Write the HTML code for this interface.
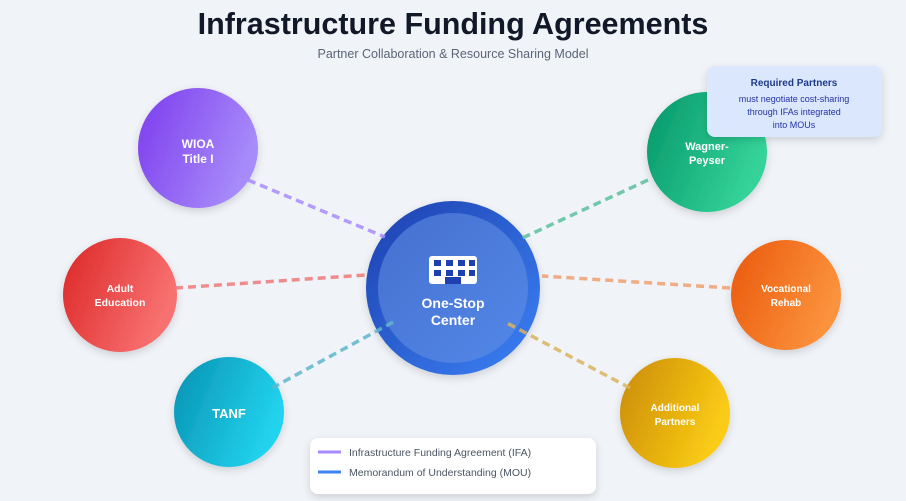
<!DOCTYPE html>
<html><head><meta charset="utf-8"><style>
html,body{margin:0;padding:0;background:#f0f3f8;}
svg{display:block;}
text{font-family:"Liberation Sans",sans-serif;}
</style></head><body>
<svg width="906" height="501" viewBox="0 0 906 501" xmlns="http://www.w3.org/2000/svg">
<defs>
<linearGradient id="gp" x1="0" y1="0" x2="1" y2="0.4"><stop offset="0" stop-color="#7c3aed"/><stop offset="1" stop-color="#a78bfa"/></linearGradient>
<linearGradient id="gr" x1="0" y1="0" x2="1" y2="0.4"><stop offset="0" stop-color="#dc2626"/><stop offset="1" stop-color="#f87171"/></linearGradient>
<linearGradient id="gc" x1="0" y1="0" x2="1" y2="0.4"><stop offset="0" stop-color="#0891b2"/><stop offset="1" stop-color="#22d3ee"/></linearGradient>
<linearGradient id="gg" x1="0" y1="0" x2="1" y2="0.4"><stop offset="0" stop-color="#059669"/><stop offset="1" stop-color="#34d399"/></linearGradient>
<linearGradient id="go" x1="0" y1="0" x2="1" y2="0.4"><stop offset="0" stop-color="#ea580c"/><stop offset="1" stop-color="#fb923c"/></linearGradient>
<linearGradient id="gy" x1="0" y1="0" x2="1" y2="0.4"><stop offset="0" stop-color="#ca8a04"/><stop offset="1" stop-color="#facc15"/></linearGradient>
<linearGradient id="gb" x1="0" y1="0" x2="1" y2="1"><stop offset="0" stop-color="#1e40af"/><stop offset="1" stop-color="#3b82f6"/></linearGradient>
<linearGradient id="gbi" x1="0" y1="0" x2="1" y2="1"><stop offset="0" stop-color="#4670cf"/><stop offset="1" stop-color="#5288e8"/></linearGradient>
<filter id="sh" x="-30%" y="-30%" width="160%" height="160%"><feDropShadow dx="0" dy="3" stdDeviation="4" flood-color="#000" flood-opacity="0.15"/></filter>
</defs>
<text x="453" y="34" text-anchor="middle" font-size="30.5" font-weight="bold" fill="#111827">Infrastructure Funding Agreements</text>
<text x="453" y="58" text-anchor="middle" font-size="12.5" fill="#5b6577">Partner Collaboration &amp; Resource Sharing Model</text>

<g filter="url(#sh)">
<circle cx="198" cy="148" r="60" fill="url(#gp)"/>
<circle cx="120" cy="295" r="57" fill="url(#gr)"/>
<circle cx="229" cy="412" r="55" fill="url(#gc)"/>
<circle cx="707" cy="152" r="60" fill="url(#gg)"/>
<circle cx="786" cy="295" r="55" fill="url(#go)"/>
<circle cx="675" cy="413" r="55" fill="url(#gy)"/>
<circle cx="453" cy="288" r="87" fill="url(#gb)"/>
</g>
<circle cx="453" cy="288" r="75" fill="url(#gbi)"/>

<g stroke-width="3.5" stroke-dasharray="8,5" fill="none" opacity="0.85">
<line x1="248" y1="180" x2="385" y2="237" stroke="#a78bfa"/>
<line x1="175" y1="288" x2="366" y2="275" stroke="#ee7a7a"/>
<line x1="272" y1="388" x2="397" y2="320" stroke="#5fb8cc"/>
<line x1="648" y1="180" x2="518" y2="240" stroke="#5cbf9d"/>
<line x1="730" y1="288" x2="542" y2="276" stroke="#f0a070"/>
<line x1="630" y1="388" x2="505" y2="322" stroke="#dbb460"/>
</g>

<g fill="#fff" font-weight="bold" text-anchor="middle">
<text x="198" y="148" font-size="12">WIOA</text><text x="198" y="163" font-size="12">Title I</text>
<text x="120" y="292" font-size="10.5">Adult</text><text x="120" y="306" font-size="10.5">Education</text>
<text x="229" y="418" font-size="13">TANF</text>
<text x="707" y="150" font-size="11">Wagner-</text><text x="707" y="164" font-size="11">Peyser</text>
<text x="786" y="292" font-size="10">Vocational</text><text x="786" y="306" font-size="10">Rehab</text>
<text x="675" y="411" font-size="10">Additional</text><text x="675" y="425" font-size="10">Partners</text>
<text x="453" y="308" font-size="14">One-Stop</text><text x="453" y="325" font-size="14">Center</text>
</g>
<rect x="429" y="256" width="48" height="28" rx="3" fill="#fff"/>
<g fill="#1e40af">
<rect x="434" y="260" width="7" height="6"/><rect x="446" y="260" width="7" height="6"/><rect x="458" y="260" width="7" height="6"/><rect x="469" y="260" width="6" height="6"/>
<rect x="434" y="270" width="7" height="6"/><rect x="446" y="270" width="7" height="6"/><rect x="458" y="270" width="7" height="6"/><rect x="469" y="270" width="6" height="6"/>
<rect x="445" y="277" width="16" height="7"/>
</g>

<g filter="url(#sh)"><rect x="707" y="66" width="175" height="71" rx="8" fill="#dbe7fd"/></g>
<text x="794" y="86" text-anchor="middle" font-size="10" font-weight="bold" fill="#1e3a8a">Required Partners</text>
<g font-size="9" fill="#2433a0" text-anchor="middle">
<text x="794" y="102">must negotiate cost-sharing</text>
<text x="794" y="115">through IFAs integrated</text>
<text x="794" y="128">into MOUs</text>
</g>

<g filter="url(#sh)"><rect x="310" y="438" width="286" height="56" rx="8" fill="#fff"/></g>
<line x1="318" y1="452" x2="341" y2="452" stroke="#a78bfa" stroke-width="3"/>
<line x1="318" y1="472" x2="341" y2="472" stroke="#3b82f6" stroke-width="3"/>
<text x="349" y="456" font-size="10.5" fill="#4b5563">Infrastructure Funding Agreement (IFA)</text>
<text x="349" y="476" font-size="10.5" fill="#4b5563">Memorandum of Understanding (MOU)</text>
</svg>
</body></html>
